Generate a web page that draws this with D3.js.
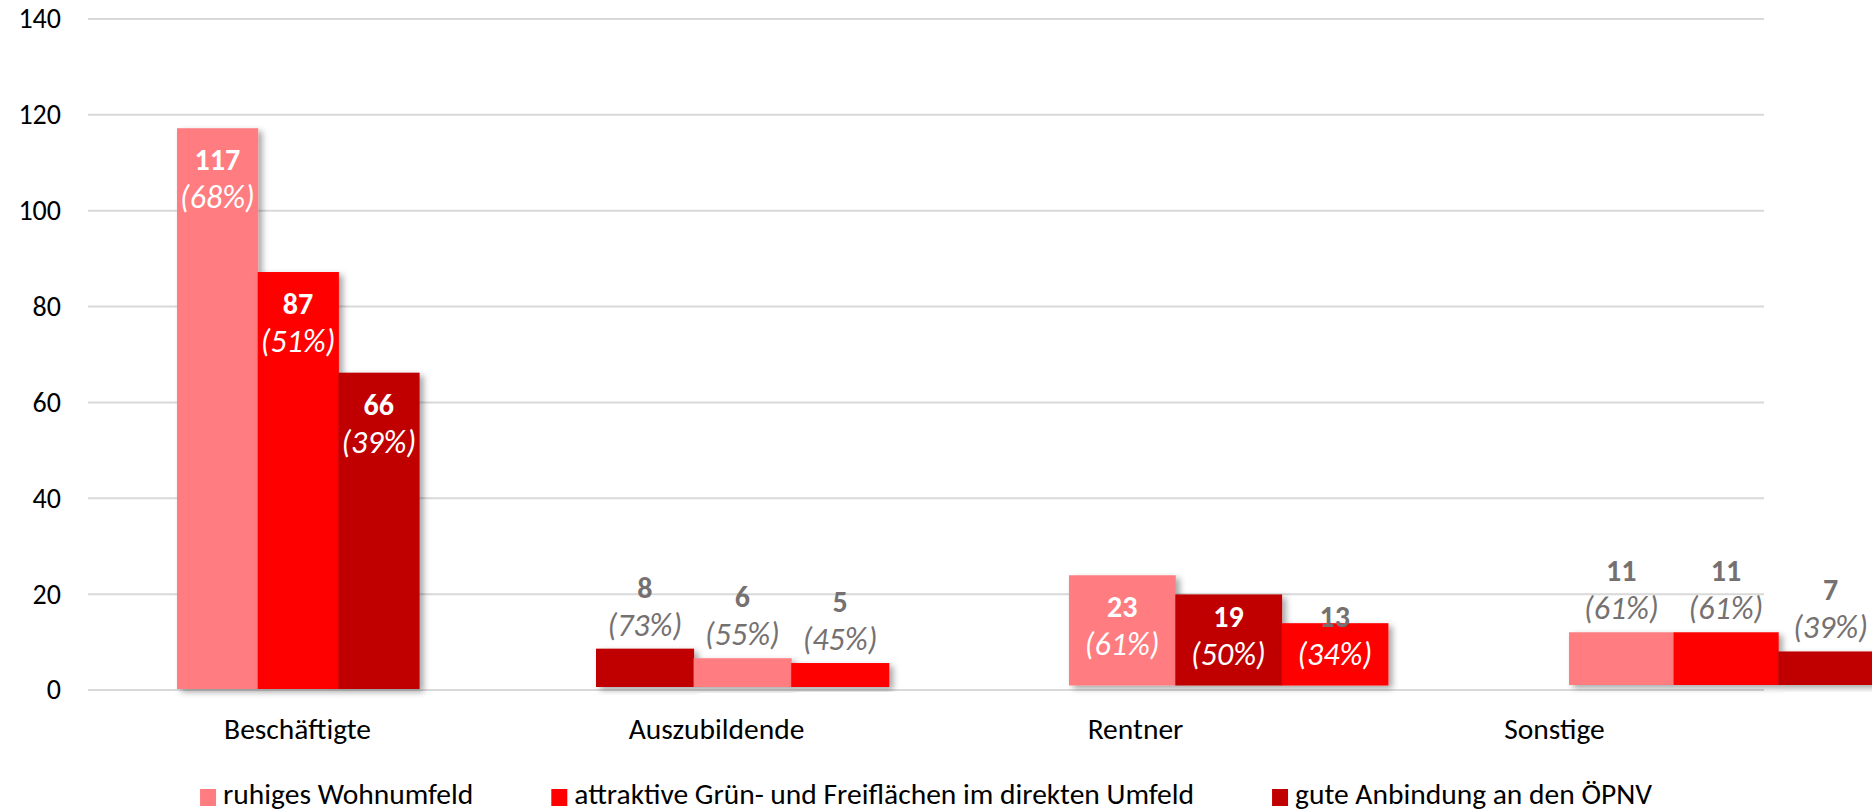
<!DOCTYPE html>
<html>
<head>
<meta charset="utf-8">
<script src="https://cdn.jsdelivr.net/npm/d3@7/dist/d3.min.js"></script>
<style>
  body { margin: 0; background: #fff; }
  svg { display: block; font-family: Calibri, Carlito, Lato, sans-serif; }
</style>
</head>
<body>
<div id="chart"></div>
<script>
const width = 1872
const height = 811

/* data */
const categories = ["Beschäftigte", "Auszubildende", "Rentner", "Sonstige"]
const seriesNames = ["ruhiges Wohnumfeld", "attraktive Grün- und Freiflächen im direkten Umfeld", "gute Anbindung an den ÖPNV"]
const ruhig = [117, 6, 23, 11]
const gruen = [87, 5, 13, 11]
const oepnv = [66, 8, 19, 7]
const pctRuhig = [68, 55, 61, 61]
const pctGruen = [51, 45, 34, 61]
const pctOepnv = [39, 73, 50, 39]
const yTicks = [0, 20, 40, 60, 80, 100, 120, 140]

// order of the series inside every group (as in the original)
const barOrder = [[0, 1, 2], [2, 0, 1], [0, 2, 1], [0, 1, 2]]
// how the labels sit: inside the bar top, above the bar, or on a common line
const labelMode = [
  ["inside", "inside", "inside"],
  ["above", "above", "above"],
  ["inside", "mid", "mid"],
  ["above", "above", "above"]
]

const colors = ["#FF7C80", "#FF0000", "#C00000"]
const grey = "#767171"

/* layout: the groups are not evenly spaced in the original */
const groupLayout = [
  { x0: 177, w: 80.7, lift: 1 },
  { x0: 596, w: 97.6, lift: 3 },
  { x0: 1069, w: 106.3, lift: 4.5 },
  { x0: 1569, w: 104.6, lift: 5 }
]

const values = [ruhig, gruen, oepnv]
const pcts = [pctRuhig, pctGruen, pctOepnv]

const plot = { left: 88, right: 1764, top: 19, bottom: 690 }

const y = d3.scaleLinear().domain([0, 140]).range([plot.bottom, plot.top])
const x = d3.scaleBand().domain(categories).range([plot.left, plot.right])

const svg = d3.select("#chart").append("svg")
  .attr("width", width)
  .attr("height", height)

const defs = svg.append("defs")
defs.append("filter")
  .attr("id", "shadow")
  .attr("x", "-10%").attr("y", "-10%")
  .attr("width", "130%").attr("height", "130%")
  .append("feDropShadow")
  .attr("dx", 4).attr("dy", 3)
  .attr("stdDeviation", 3)
  .attr("flood-color", "#000")
  .attr("flood-opacity", 0.35)

/* grid */
svg.append("g")
  .selectAll("line")
  .data(yTicks)
  .join("line")
  .attr("x1", plot.left)
  .attr("x2", plot.right)
  .attr("y1", d => y(d))
  .attr("y2", d => y(d))
  .attr("stroke", "#D9D9D9")
  .attr("stroke-width", 2)

/* y axis labels */
const yAxis = svg.append("g")
  .attr("transform", `translate(${plot.left - 27},0)`)
  .call(d3.axisLeft(y).tickValues(yTicks).tickSize(0).tickPadding(0))
yAxis.select(".domain").remove()
yAxis.selectAll("text")
  .attr("font-family", "Calibri, Carlito, Lato, sans-serif")
  .attr("font-size", 28)
  .attr("fill", "#000")

/* bars */
const bars = []
categories.forEach((c, ci) => {
  const lay = groupLayout[ci]
  const xs = d3.scaleBand().domain([0, 1, 2]).range([lay.x0, lay.x0 + 3 * lay.w])
  barOrder[ci].forEach((si, pos) => {
    bars.push({
      cat: c,
      series: si,
      value: values[si][ci],
      pct: pcts[si][ci],
      mode: labelMode[ci][pos],
      x: xs(pos),
      w: xs.bandwidth(),
      base: y(0) - lay.lift
    })
  })
})

const barG = svg.append("g")
barG.selectAll("rect")
  .data(bars)
  .join("rect")
  .attr("x", d => d.x)
  .attr("width", d => d.w + 0.5)
  .attr("y", d => d.base - (y(0) - y(d.value)))
  .attr("height", d => y(0) - y(d.value))
  .attr("fill", d => colors[d.series])
  .attr("filter", "url(#shadow)")

/* data labels */
function labelPos(d) {
  const top = d.base - (y(0) - y(d.value))
  if (d.mode === "inside") return { top, v: top + 42, p: top + 80 }
  if (d.mode === "above") return { top, v: top - 51, p: top - 13 }
  return { top, v: y(0) - 63, p: y(0) - 25 }
}

const labG = svg.append("g").attr("text-anchor", "middle")
bars.forEach(d => {
  const pos = labelPos(d)
  const cx = d.x + d.w / 2
  const vWhite = pos.v > pos.top + 10
  const pWhite = pos.p > pos.top + 10
  labG.append("text")
    .attr("x", cx)
    .attr("y", pos.v)
    .attr("font-size", 30)
    .attr("font-weight", "bold")
    .attr("fill", vWhite ? "#fff" : grey)
    .text(d.value)
  labG.append("text")
    .attr("x", cx)
    .attr("y", pos.p)
    .attr("font-size", 32)
    .attr("font-style", "italic")
    .attr("fill", pWhite ? "#fff" : grey)
    .text(`(${d.pct}%)`)
})

/* category labels */
svg.append("g")
  .selectAll("text")
  .data(categories)
  .join("text")
  .attr("x", d => x(d) + x.bandwidth() / 2)
  .attr("y", 739)
  .attr("text-anchor", "middle")
  .attr("font-size", 29.5)
  .attr("fill", "#000")
  .text(d => d)

/* legend */
const legend = svg.append("g")
const items = legend.selectAll("g")
  .data(seriesNames)
  .join("g")
items.append("rect")
  .attr("width", 16)
  .attr("height", 17)
  .attr("y", 789)
  .attr("fill", (d, i) => colors[i])
items.append("text")
  .attr("x", 23)
  .attr("y", 804)
  .attr("font-size", 29.5)
  .attr("fill", "#000")
  .text(d => d)

let cursor = 0
const offsets = []
items.each(function () {
  offsets.push(cursor)
  const tw = this.querySelector("text").getComputedTextLength()
  cursor += 23 + tw + 78
})
const total = cursor - 78
const start = (plot.left + plot.right) / 2 - total / 2
items.attr("transform", (d, i) => `translate(${start + offsets[i]},0)`)
</script>
</body>
</html>
